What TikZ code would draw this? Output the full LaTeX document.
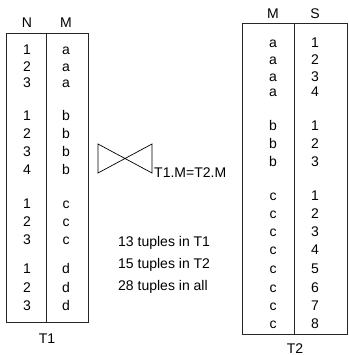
\documentclass[tikz,border=0pt]{standalone}
\usepackage{fontspec}
\setmainfont{Liberation Sans}
\usetikzlibrary{positioning}

\begin{document}
\begin{tikzpicture}[x=1pt,y=-1pt,
  cell/.style={inner sep=0pt,text height=10pt,text depth=0pt,font=\fontsize{14}{16}\selectfont},
  rule/.style={line width=0.8pt,draw=black!85}]
\useasboundingbox (0,0) rectangle (348,355);

%Corners of the two tables
\coordinate (t1tl) at (6,33);
\coordinate (t1br) at (88,322);
\coordinate (t1top) at (46,33);
\coordinate (t1bot) at (46,322);
\coordinate (t2tl) at (242,23);
\coordinate (t2br) at (347,334);
\coordinate (t2top) at (294,23);
\coordinate (t2bot) at (294,334);

%Draw the tables
\draw[rule] (t1tl) rectangle (t1br);
\draw[rule] (t1top) -- (t1bot);
\draw[rule] (t2tl) rectangle (t2br);
\draw[rule] (t2top) -- (t2bot);

%Headers and names
\node[cell] (t1hn) at (27,23) {N};
\node[cell] (t1hm) at (66,23) {M};
\node[cell] (t2hm) at (273,14) {M};
\node[cell] (t2hs) at (315,14) {S};
\node[cell] (t1name) at (47,338) {T1};
\node[cell] (t2name) at (295,348) {T2};

%Rows of T1
\foreach \y/\n/\m [count=\i] in {50/1/a,67/2/a,83/3/a,
    116/1/b,134/2/b,152/3/b,170/4/b,
    203/1/c,221/2/c,239/3/c,
    268/1/d,287/2/d,305/3/d}
{
  \node[cell] (t1n\i) at (27,\y) {\n};
  \node[cell] (t1m\i) at (66,\y) {\m};
}

%Rows of T2
\foreach \y/\m/\s [count=\i] in {43/a/1,60/a/2,77/a/3,92/a/4,
    126/b/1,144/b/2,162/b/3,
    195/c/1,213/c/2,231/c/3,249/c/4,268/c/5,287/c/6,305/c/7,323/c/8}
{
  \node[cell] (t2m\i) at (273,\y) {\m};
  \node[cell] (t2s\i) at (315,\y) {\s};
}

%Join symbol
\coordinate (bwA) at (98,144);
\coordinate (bwB) at (152,173);
\coordinate (bwC) at (152,144);
\coordinate (bwD) at (98,173);
\draw[line width=0.7pt] (bwA) -- (bwB) -- (bwC) -- (bwD) -- cycle;
\node[cell,anchor=base west] (cond) at (154,178) {T1.M=T2.M};

%Counts
\node[cell,anchor=west] (cnt1) at (118,241) {13 tuples in T1};
\node[cell,anchor=west] (cnt2) at (118,263) {15 tuples in T2};
\node[cell,anchor=west] (cnt3) at (118,285) {28 tuples in all};
\end{tikzpicture}
\end{document}
